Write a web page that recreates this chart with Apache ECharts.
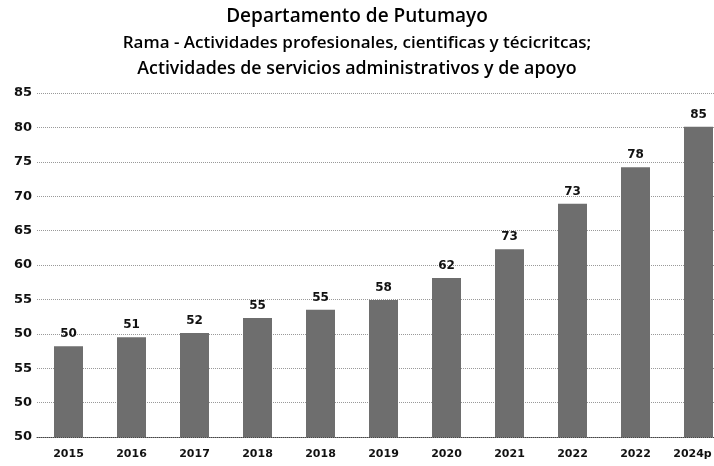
<!DOCTYPE html>
<html>
<head>
<meta charset="utf-8">
<script src="https://cdn.jsdelivr.net/npm/echarts@6/dist/echarts.min.js"></script>
<style>
  html, body { margin: 0; padding: 0; background: #fff; }
  #chart { width: 714px; height: 466px; }
</style>
</head>
<body>
<div id="chart"></div>
<script>
const years = ['2015', '2016', '2017', '2018', '2018', '2019', '2020', '2021', '2022', '2022', '2024p']
// bar heights
const values = [48.2, 49.5, 50.1, 52.3, 53.5, 54.9, 58.1, 62.3, 68.9, 74.2, 80.1]
// numbers printed above the bars
const barLabels = ['50', '51', '52', '55', '55', '58', '62', '73', '73', '78', '85']
// y tick labels as printed, bottom to top
const tickLabels = ['50', '50', '55', '50', '55', '60', '65', '70', '75', '80', '85']

const titleLines = [
  'Departamento de Putumayo',
  'Rama - Actividades profesionales, cientificas y técicritcas;',
  'Actividades de servicios administrativos y de apoyo'
]

const yMin = 35
const yStep = 5

const chart = echarts.init(document.getElementById('chart'))

chart.setOption({
  animation: false,
  title: {
    text: '{a|' + titleLines[0] + '}\n{b|' + titleLines[1] + '}\n{c|' + titleLines[2] + '}',
    left: 'center',
    top: -2,
    textStyle: {
      rich: {
        a: { fontFamily: 'Open Sans', fontSize: 19, fontWeight: 600, lineHeight: 27, color: '#000' },
        b: { fontFamily: 'Open Sans', fontSize: 17, fontWeight: 600, lineHeight: 26, color: '#000' },
        c: { fontFamily: 'Open Sans', fontSize: 17.8, fontWeight: 600, lineHeight: 26, color: '#000' }
      }
    }
  },
  grid: {
    left: 37,
    right: -16,
    top: 93,
    bottom: 29,
    outerBoundsMode: 'none'
  },
  xAxis: {
    type: 'category',
    data: years,
    axisTick: { show: false },
    axisLine: { lineStyle: { color: '#444', type: 'dotted' } },
    axisLabel: {
      interval: 0,
      hideOverlap: false,
      color: '#111',
      fontFamily: 'DejaVu Sans',
      fontWeight: 'bold',
      fontSize: 11,
      margin: 12,
      // last label sits at the right edge, nudge it back inside
      formatter: (v, i) => i === years.length - 1 ? '{last|' + v + '}' : v,
      rich: {
        last: {
          fontFamily: 'DejaVu Sans',
          fontWeight: 'bold',
          fontSize: 11,
          color: '#111',
          padding: [0, 12, 0, 0]
        }
      }
    }
  },
  yAxis: {
    type: 'value',
    min: yMin,
    max: 85,
    interval: yStep,
    axisLine: { show: false },
    axisTick: { show: false },
    splitLine: { lineStyle: { color: '#999', type: 'dotted' } },
    axisLabel: {
      color: '#111',
      fontFamily: 'DejaVu Sans',
      fontWeight: 'bold',
      fontSize: 13,
      margin: 5,
      formatter: v => tickLabels[Math.round((v - yMin) / yStep)]
    }
  },
  series: [{
    type: 'bar',
    data: values,
    barWidth: 29,
    itemStyle: { color: '#6e6e6e' },
    label: {
      show: true,
      position: 'top',
      distance: 6,
      color: '#111',
      fontFamily: 'DejaVu Sans',
      fontWeight: 'bold',
      fontSize: 12,
      formatter: p => barLabels[p.dataIndex]
    }
  }]
})
</script>
</body>
</html>
